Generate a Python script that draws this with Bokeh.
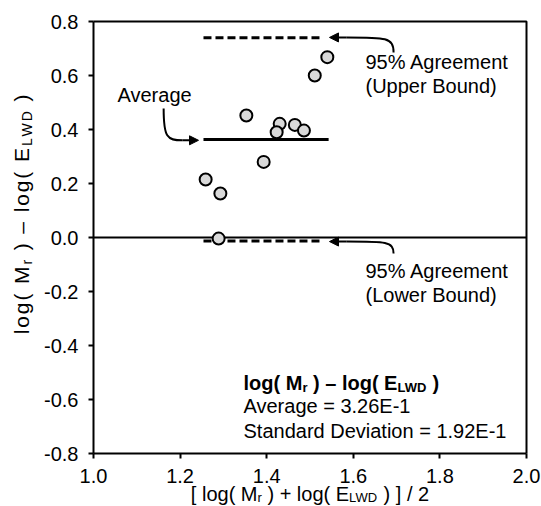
import math
from bokeh.plotting import figure
from bokeh.models import Label, Arrow, NormalHead, FixedTicker, NumeralTickFormatter
from bokeh.embed import file_html
from bokeh.resources import INLINE

# ---------------- data ----------------
mean_log = [1.540, 1.511, 1.353, 1.430, 1.423, 1.465, 1.486, 1.393, 1.293, 1.259, 1.289]
diff_log = [0.668, 0.600, 0.452, 0.421, 0.390, 0.417, 0.396, 0.280, 0.163, 0.215, -0.004]
average_level = 0.363
upper_bound = 0.740
lower_bound = -0.013
line_x_start = 1.254
line_x_end = [1.543, 1.531, 1.531]   # average, upper, lower
x_ticks = [1.0, 1.2, 1.4, 1.6, 1.8, 2.0]
y_ticks = [-0.8, -0.6, -0.4, -0.2, 0.0, 0.2, 0.4, 0.6, 0.8]
stats_lines = ["Average = 3.26E-1", "Standard Deviation = 1.92E-1"]
agreement_text = "95% Agreement"
upper_text = "(Upper Bound)"
lower_text = "(Lower Bound)"
average_text = "Average"

FONT = "Liberation Sans"
BASE_FIX = 7   # px: renderer draws alphabetic-baseline labels this much lower/right

# ---------------- layout: frame fills the canvas, axes placed at fixed locations
W, H = 541, 506
X0, X1, Y0, Y1 = 1.0, 2.0, -0.8, 0.8
LEFT, RIGHT, TOP, BOTTOM = 93, 15, 21, 53           # pixel margins around the plot box
px_x = (W - LEFT - RIGHT) / (X1 - X0)
px_y = (H - TOP - BOTTOM) / (Y1 - Y0)
x_range = (X0 - LEFT / px_x, X1 + RIGHT / px_x)
y_range = (Y0 - BOTTOM / px_y, Y1 + TOP / px_y)


def dx(px):   # canvas pixel column -> data x
    return X0 + (px - LEFT) / px_x


def dy(py):   # canvas pixel row -> data y
    return Y1 - (py - TOP) / px_y


# Arial-compatible advance widths (per 1000 em)
W_REG = {" ": 278, "(": 333, ")": 333, "[": 278, "]": 278, "/": 278, "+": 584,
         "\u2013": 556, "2": 556, "l": 222, "o": 556, "g": 556, "M": 833,
         "r": 333, "E": 667, "L": 556, "W": 944, "D": 722}
W_BOLD = {" ": 278, "(": 333, ")": 333, "\u2013": 556, "l": 278, "o": 611,
          "g": 611, "M": 833, "r": 389, "E": 667, "L": 611, "W": 944, "D": 722}


def text_w(t, size, bold=False):
    table = W_BOLD if bold else W_REG
    return sum(table.get(c, 556) for c in t) * size / 1000.0


def rich(p, parts, x, y, x_off, y_off, centered=False, vertical=False,
         size=20, sub_size=13, sub_drop=5, bold=False, track=0.0):
    # split into pieces; with tracking every character is its own piece
    pieces = []
    for t, s in parts:
        if track:
            pieces += [(c, s) for c in t]
        else:
            pieces.append((t, s))
    widths = [text_w(t, sub_size if s else size, bold) + track * len(t) for t, s in pieces]
    pos = -sum(widths) / 2 if centered else 0.0
    for (t, s), w in zip(pieces, widths):
        sz = sub_size if s else size
        if t.strip():
            lead = text_w(t[:len(t) - len(t.lstrip())], sz, bold)
            drop = sub_drop if s else 0
            if vertical:
                xo, yo, ang = x_off + drop - BASE_FIX, y_off + pos + lead, math.pi / 2
            else:
                xo, yo, ang = x_off + pos + lead, y_off - drop + BASE_FIX, 0.0
            p.add_layout(Label(x=x, y=y, x_offset=xo, y_offset=yo, text=t.strip(),
                               angle=ang, text_align="left", text_baseline="alphabetic",
                               text_font=FONT, text_font_size=f"{sz}px",
                               text_font_style="bold" if bold else "normal",
                               text_color="black"))
        pos += w


p = figure(width=W, height=H, x_range=x_range, y_range=y_range,
           output_backend="svg", toolbar_location=None,
           min_border=0, min_border_left=0, min_border_right=0,
           min_border_top=0, min_border_bottom=0)
p.background_fill_color = "white"
p.border_fill_color = "white"
p.outline_line_color = None
p.xgrid.visible = False
p.ygrid.visible = False

p.xaxis.fixed_location = Y0
p.yaxis.fixed_location = X0
p.xaxis.bounds = (X0, X1)
p.yaxis.bounds = (Y0, Y1)

for ax, ticks in ((p.xaxis, x_ticks), (p.yaxis, y_ticks)):
    ax.ticker = FixedTicker(ticks=ticks)
    ax.formatter = NumeralTickFormatter(format="0.0")
    ax.minor_tick_line_color = None
    ax.major_tick_in = 0
    ax.major_tick_out = 5
    ax.major_tick_line_width = 2
    ax.major_tick_line_color = "black"
    ax.axis_line_width = 2
    ax.axis_line_color = "black"
    ax.major_label_text_font = FONT
    ax.major_label_text_font_size = "20px"
    ax.major_label_text_color = "black"
    ax.major_label_standoff = 10

# top and right edges of the plot box
p.line([X0, X1, X1], [Y1, Y1, Y0], line_color="black", line_width=2)

# zero line
p.line([X0, X1], [0, 0], line_color="black", line_width=2)

# average and agreement lines
p.line([line_x_start, line_x_end[0]], [average_level, average_level], line_color="black", line_width=3)
p.line([line_x_start, line_x_end[1]], [upper_bound, upper_bound], line_color="black",
       line_width=3, line_dash="8 4")
p.line([line_x_start, line_x_end[2]], [lower_bound, lower_bound], line_color="black",
       line_width=3, line_dash="8 4")

# points
p.scatter(mean_log, diff_log, size=12, fill_color="#d9d9d9", line_color="black", line_width=2)


# curved arrows
def curved_arrow(x0, y0, cx0, cy0, cx1, cy1, x1, y1, tipx, tipy):
    p.bezier(x0=[x0], y0=[y0], x1=[x1], y1=[y1], cx0=[cx0], cy0=[cy0], cx1=[cx1], cy1=[cy1],
             line_color="black", line_width=2)
    p.add_layout(Arrow(x_start=x1, y_start=y1, x_end=tipx, y_end=tipy, line_color="black",
                       line_width=2, end=NormalHead(size=9, fill_color="black", line_color="black")))


curved_arrow(1.693, 0.685, 1.693, 0.741, 1.675, 0.741, 1.585, 0.741, 1.545, 0.741)
curved_arrow(1.693, -0.059, 1.693, -0.015, 1.675, -0.015, 1.585, -0.015, 1.545, -0.015)
curved_arrow(1.162, 0.478, 1.162, 0.37, 1.170, 0.36, 1.205, 0.36, 1.2425, 0.36)


# annotation texts (positions given as canvas pixels of the left end of the baseline)
def plain(px, py, t):
    p.add_layout(Label(x=dx(px), y=dy(py), y_offset=BASE_FIX, text=t, text_align="left",
                       text_baseline="alphabetic", text_font=FONT, text_font_size="20px",
                       text_color="black"))


plain(117, 101, average_text)
plain(365, 68, agreement_text)
plain(365, 92, upper_text)
plain(365, 277, agreement_text)
plain(365, 301, lower_text)

# stats box
stats_title = [("log( M", False), ("r", True), (" ) \u2013 log( E", False), ("LWD", True), (" )", False)]
rich(p, stats_title, dx(243), dy(389), 0, 0, bold=True)
plain(243, 412, stats_lines[0])
plain(243, 437, stats_lines[1])

# axis titles
x_title = [("[ log( M", False), ("r", True), (" ) + log( E", False), ("LWD", True), (" ) ] / 2", False)]
rich(p, x_title, (X0 + X1) / 2, Y0, 0, -47, centered=True, sub_drop=4)
y_title = [("log( M", False), ("r", True), (" ) \u2013 log( E", False), ("LWD", True), (" )", False)]
rich(p, y_title, X0, dy(213), -65, 0, centered=True, vertical=True,
     size=21, sub_size=14, track=1.9)

open("out.html", "w").write(file_html(p, INLINE))
